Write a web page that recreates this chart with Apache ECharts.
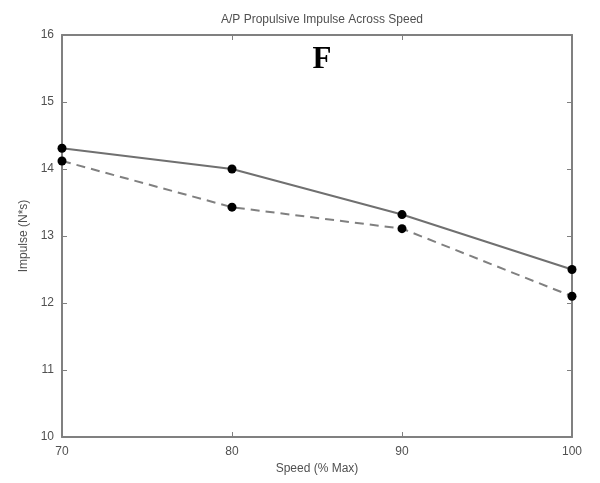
<!DOCTYPE html>
<html><head><meta charset="utf-8">
<script src="https://cdn.jsdelivr.net/npm/echarts@6/dist/echarts.min.js"></script>
<style>html,body{margin:0;padding:0;background:#fff}#c{width:600px;height:483px}</style>
</head><body><div id="c"></div>
<script>
const speeds = [70, 80, 90, 100];
const solidSeries = [14.31, 14.0, 13.32, 12.50];
const dashedSeries = [14.12, 13.43, 13.11, 12.10];
const chartTitle = 'A/P Propulsive Impulse Across Speed';
const panelLabel = 'F';
const xName = 'Speed (% Max)';
const yName = 'Impulse (N*s)';

const chart = echarts.init(document.getElementById('c'));
const axisLine = {show: true, lineStyle: {color: '#808080', width: 2}};
const font = 'Liberation Sans';
chart.setOption({
  animation: false,
  backgroundColor: '#fff',
  title: [{
    text: chartTitle, left: 317, top: 9, textAlign: 'center',
    textStyle: {fontSize: 12, fontWeight: 'normal', color: '#505050', fontFamily: font}
  }, {
    text: panelLabel, left: 317, top: 39, textAlign: 'center',
    textStyle: {fontSize: 31, fontWeight: 'bold', color: '#000', fontFamily: 'Liberation Serif'}
  }],
  grid: {left: 62, right: 28, top: 35, bottom: 46, containLabel: false},
  xAxis: [{
    type: 'value', min: 70, max: 100, interval: 10, position: 'bottom',
    name: xName, nameLocation: 'middle', nameGap: 22,
    nameTextStyle: {fontSize: 12, color: '#505050', fontFamily: font},
    axisLine: axisLine, splitLine: {show: false},
    axisTick: {show: true, inside: true, length: 5, lineStyle: {color: '#808080'}},
    axisLabel: {fontSize: 12, color: '#505050', fontFamily: font, margin: 9}
  }, {
    type: 'value', min: 70, max: 100, interval: 10, position: 'top',
    axisLine: axisLine, splitLine: {show: false},
    axisTick: {show: true, inside: true, length: 5, lineStyle: {color: '#808080'}},
    axisLabel: {show: false}
  }],
  yAxis: [{
    type: 'value', min: 10, max: 16, interval: 1, position: 'left',
    name: yName, nameLocation: 'middle', nameGap: 30, nameRotate: 90,
    nameTextStyle: {fontSize: 12, color: '#505050', fontFamily: font},
    axisLine: axisLine, splitLine: {show: false},
    axisTick: {show: true, inside: true, length: 5, lineStyle: {color: '#808080'}},
    axisLabel: {fontSize: 12, color: '#505050', fontFamily: font, margin: 8}
  }, {
    type: 'value', min: 10, max: 16, interval: 1, position: 'right',
    axisLine: axisLine, splitLine: {show: false},
    axisTick: {show: true, inside: true, length: 5, lineStyle: {color: '#808080'}},
    axisLabel: {show: false}
  }],
  series: [{
    type: 'line', data: speeds.map((s, i) => [s, solidSeries[i]]),
    symbol: 'circle', symbolSize: 9, clip: false,
    itemStyle: {color: '#000'},
    lineStyle: {color: '#707070', width: 2, type: 'solid'}
  }, {
    type: 'line', data: speeds.map((s, i) => [s, dashedSeries[i]]),
    symbol: 'circle', symbolSize: 9, clip: false,
    itemStyle: {color: '#000'},
    lineStyle: {color: '#808080', width: 2, type: [9, 6]}
  }]
});
</script></body></html>
